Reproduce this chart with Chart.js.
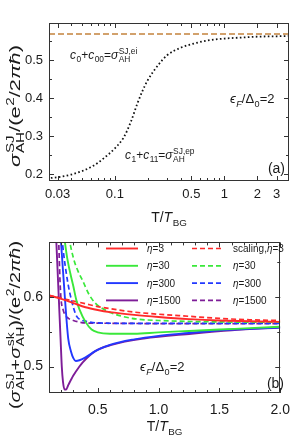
<!DOCTYPE html>
<html>
<head>
<meta charset="utf-8">
<script src="https://cdn.jsdelivr.net/npm/chart.js@4.4.1/dist/chart.umd.min.js"></script>
<style>
  html, body { margin: 0; padding: 0; background: #fff; }
  #wrap { position: relative; width: 299px; height: 443px; }
  canvas { position: absolute; left: 0; display: block; }
  #topChart { top: 0; }
  #botChart { top: 228px; }
</style>
</head>
<body>
<div id="wrap">
  <canvas id="topChart" width="299" height="228"></canvas>
  <canvas id="botChart" width="299" height="215"></canvas>
</div>
<script>
// ---- panel (a) data ----
const topT = [0.026, 0.03, 0.04, 0.05, 0.06, 0.07, 0.08, 0.1, 0.12, 0.14, 0.16, 0.18, 0.2, 0.25, 0.3, 0.4, 0.5, 0.7, 1, 1.5, 2, 3, 3.9];
const topSJep = [0.190, 0.192, 0.199, 0.208, 0.218, 0.230, 0.243, 0.268, 0.296, 0.338, 0.385, 0.421, 0.448, 0.488, 0.513, 0.533, 0.542, 0.552, 0.557, 0.560, 0.562, 0.563, 0.564];
const topEiT = [0.025, 3.9];
const topSJei = [0.569, 0.569];
const topXTicks = [0.03, 0.04, 0.05, 0.06, 0.07, 0.08, 0.09, 0.1, 0.2, 0.3, 0.4, 0.5, 0.6, 0.7, 0.8, 0.9, 1, 2, 3];
const topXMajor = [0.03, 0.1, 0.5, 1, 2, 3];
const topYTicks = [0.2, 0.25, 0.3, 0.35, 0.4, 0.45, 0.5, 0.55];
const topYMajor = [0.2, 0.3, 0.4, 0.5];

// ---- panel (b) data ----
const eta3T = [0.1, 0.2, 0.3, 0.4, 0.5, 0.6, 0.8, 1.0, 1.25, 1.5, 1.75, 2.0];
const eta3 = [0.602, 0.597, 0.591, 0.585, 0.581, 0.578, 0.574, 0.571, 0.568, 0.566, 0.565, 0.564];
const eta30T = [0.2, 0.25, 0.3, 0.325, 0.35, 0.4, 0.45, 0.5, 0.6, 0.8, 1.0, 1.25, 1.5, 1.75, 2.0];
const eta30 = [0.72, 0.655, 0.615, 0.595, 0.582, 0.564, 0.553, 0.549, 0.547, 0.547, 0.549, 0.551, 0.553, 0.555, 0.557];
const eta300T = [0.18, 0.2, 0.232, 0.258, 0.28, 0.3, 0.32, 0.35, 0.4, 0.48, 0.6, 0.8, 1.0, 1.25, 1.5, 1.75, 2.0];
const eta300 = [0.72, 0.675, 0.595, 0.540, 0.522, 0.512, 0.508, 0.509, 0.513, 0.522, 0.531, 0.539, 0.544, 0.548, 0.552, 0.554, 0.556];
const eta1500T = [0.15, 0.16, 0.18, 0.195, 0.205, 0.215, 0.228, 0.24, 0.26, 0.3, 0.35, 0.377, 0.48, 0.614, 0.878, 1.27, 1.6, 2.0];
const eta1500 = [0.72, 0.68, 0.60, 0.54, 0.50, 0.478, 0.467, 0.467, 0.474, 0.487, 0.500, 0.506, 0.522, 0.531, 0.540, 0.547, 0.552, 0.556];
const scal3T = [0.1, 0.2, 0.3, 0.4, 0.5, 0.6, 0.8, 1.0, 1.25, 1.5, 1.75, 2.0];
const scal3 = [0.602, 0.598, 0.594, 0.590, 0.586, 0.583, 0.578, 0.575, 0.572, 0.569, 0.567, 0.566];
const scal30T = [0.24, 0.26, 0.3, 0.34, 0.377, 0.43, 0.48, 0.55, 0.61, 0.7, 0.825, 1.0, 1.5, 2.0];
const scal30 = [0.72, 0.69, 0.656, 0.636, 0.623, 0.603, 0.591, 0.582, 0.577, 0.572, 0.568, 0.566, 0.564, 0.5635];
const scal300T = [0.19, 0.21, 0.25, 0.285, 0.324, 0.36, 0.4, 0.5, 0.7, 1.0, 1.5, 2.0];
const scal300 = [0.72, 0.678, 0.625, 0.595, 0.573, 0.567, 0.565, 0.5625, 0.562, 0.562, 0.562, 0.562];
const scal1500T = [0.17, 0.18, 0.19, 0.198, 0.215, 0.232, 0.26, 0.3, 0.4, 0.6, 1.0, 2.0];
const scal1500 = [0.72, 0.678, 0.625, 0.598, 0.582, 0.574, 0.569, 0.566, 0.5625, 0.562, 0.5615, 0.5615];
const botXTicks = [0.1, 0.2, 0.3, 0.4, 0.5, 0.6, 0.7, 0.8, 0.9, 1.0, 1.1, 1.2, 1.3, 1.4, 1.5, 1.6, 1.7, 1.8, 1.9, 2.0];
const botXMajor = [0.5, 1.0, 1.5, 2.0];
const botYTicks = [0.5, 0.55, 0.6, 0.65];
const botYMajor = [0.5, 0.6];

const FONT = '"Liberation Sans", Arial, sans-serif';
const INK = '#1a1a1a';

const pts = (xs, ys) => xs.map((x, i) => ({ x: x, y: ys[i] }));

// rich text: tokens {t, it, sub, sup, subIt}
const fnt = (size, it) => `${it ? 'italic ' : ''}${size}px ${FONT}`;
const richWidth = (ctx, toks, size) => {
  let w = 0;
  toks.forEach((k) => {
    ctx.font = fnt(size, k.it);
    w += ctx.measureText(k.t).width;
    let sw = 0;
    ctx.font = fnt(size * 0.7, k.subIt);
    if (k.sub) sw = ctx.measureText(k.sub).width;
    ctx.font = fnt(size * 0.7, false);
    if (k.sup) sw = Math.max(sw, ctx.measureText(k.sup).width);
    w += sw ? sw + 0.5 : 0;
  });
  return w;
};
const drawRich = (ctx, toks, x, y, size) => {
  ctx.textBaseline = 'alphabetic';
  ctx.textAlign = 'left';
  toks.forEach((k) => {
    ctx.font = fnt(size, k.it);
    ctx.fillText(k.t, x, y);
    x += ctx.measureText(k.t).width;
    let sw = 0;
    if (k.sub) {
      ctx.font = fnt(size * 0.7, k.subIt);
      ctx.fillText(k.sub, x + 0.5, y + size * 0.28);
      sw = ctx.measureText(k.sub).width;
    }
    if (k.sup) {
      ctx.font = fnt(size * 0.7, false);
      ctx.fillText(k.sup, x + 0.5, y - size * 0.45);
      sw = Math.max(sw, ctx.measureText(k.sup).width);
    }
    x += sw ? sw + 0.5 : 0;
  });
};
const placeRich = (ctx, toks, x, y, size, align) => {
  const w = richWidth(ctx, toks, size);
  const x0 = align === 'right' ? x - w : align === 'center' ? x - w / 2 : x;
  drawRich(ctx, toks, x0, y, size);
};
// rotated title, stretched along its length to span "len" pixels
const drawVertical = (ctx, toks, cx, cy, size, len) => {
  const w = richWidth(ctx, toks, size);
  const k = len ? len / w : 1;
  ctx.save();
  ctx.translate(cx, cy);
  ctx.rotate(-Math.PI / 2);
  ctx.scale(k, 1);
  drawRich(ctx, toks, -w / 2, size * 0.35, size);
  ctx.restore();
};

// frame, inward ticks, texts
const framePlugin = {
  id: 'frame',
  afterDraw(chart, args, opts) {
    const ctx = chart.ctx;
    const a = chart.chartArea;
    ctx.save();
    ctx.strokeStyle = '#333';
    ctx.lineWidth = 1;
    ctx.strokeRect(Math.round(a.left) + 0.5, Math.round(a.top) + 0.5, Math.round(a.right - a.left) - 1, Math.round(a.bottom - a.top) - 1);
    const xs = chart.scales.x, ys = chart.scales.y;
    ctx.beginPath();
    xs.ticks.forEach((t) => {
      const p = Math.round(xs.getPixelForValue(t.value)) + 0.5;
      const len = opts.xMajor.includes(t.value) ? 5 : 3;
      ctx.moveTo(p, a.bottom); ctx.lineTo(p, a.bottom - len);
      ctx.moveTo(p, a.top); ctx.lineTo(p, a.top + len);
    });
    ys.ticks.forEach((t) => {
      const p = Math.round(ys.getPixelForValue(t.value)) + 0.5;
      const len = opts.yMajor.includes(t.value) ? 5 : 3;
      ctx.moveTo(a.left, p); ctx.lineTo(a.left + len, p);
      ctx.moveTo(a.right, p); ctx.lineTo(a.right - len, p);
    });
    ctx.stroke();
    ctx.fillStyle = INK;
    opts.texts.forEach((tx) => placeRich(ctx, tx.toks, tx.x, tx.y, tx.size, tx.align));
    drawVertical(ctx, opts.yTitle, opts.yTitleX, opts.yTitleY, opts.yTitleSize, opts.yTitleLen);
    placeRich(ctx, [{ t: 'T/' }, { t: 'T', it: true, sub: 'BG' }], (a.left + a.right) / 2, opts.xTitleY, 14, 'center');
    ctx.restore();
  },
};

// legend in two columns, drawn from the datasets
const legendPlugin = {
  id: 'etaLegend',
  afterDraw(chart, args, opts) {
    if (!opts.show) return;
    const ctx = chart.ctx;
    ctx.save();
    chart.data.datasets.forEach((ds, i) => {
      const col = i < 4 ? 0 : 1;
      const row = i % 4;
      const y = opts.y0 + row * opts.dy;
      const sx = opts.cols[col];
      ctx.strokeStyle = ds.borderColor;
      ctx.lineWidth = ds.borderWidth;
      ctx.setLineDash(ds.borderDash || []);
      ctx.beginPath();
      ctx.moveTo(sx, y); ctx.lineTo(sx + 32, y);
      ctx.stroke();
      ctx.setLineDash([]);
      ctx.fillStyle = INK;
      const parts = ds.label.split('η');
      const toks = [{ t: parts[0] }, { t: 'η', it: true }, { t: parts[1] }];
      drawRich(ctx, toks, sx + 41, y + 3.5, 10);
    });
    ctx.restore();
  },
};

const axisBase = (ticks, fmt, size, pad) => ({
  grid: { display: false, drawTicks: false },
  border: { display: false },
  afterBuildTicks: (s) => { s.ticks = ticks.map((v) => ({ value: v })); },
  ticks: { autoSkip: false, maxRotation: 0, minRotation: 0, padding: pad, color: INK, font: { family: FONT, size: size }, callback: fmt },
});

// ---- panel (a) ----
const topX = axisBase(topXTicks, (v) => (topXMajor.includes(v) ? String(v) : ''), 13, 6);
topX.type = 'logarithmic'; topX.min = 0.025; topX.max = 3.9;
topX.afterFit = (s) => { s.height = 47; };
const topY = axisBase(topYTicks, (v) => (topYMajor.includes(v) ? v.toFixed(1) : ''), 13, 6);
topY.min = 0.182; topY.max = 0.598;
topY.afterFit = (s) => { s.width = 49; };

new Chart(document.getElementById('topChart'), {
  type: 'line',
  data: {
    datasets: [
      { label: 'ep', data: pts(topT, topSJep), borderColor: '#111', borderWidth: 1.8, borderDash: [1.6, 2.4], pointRadius: 0, cubicInterpolationMode: 'monotone', fill: false },
      { label: 'ei', data: pts(topEiT, topSJei), borderColor: '#c4823c', borderWidth: 1.6, borderDash: [6, 3], pointRadius: 0, fill: false },
    ],
  },
  options: {
    responsive: false, animation: false, parsing: true,
    layout: { padding: { top: 23, right: 10, left: 0, bottom: 0 } },
    plugins: {
      legend: { display: false }, tooltip: { enabled: false },
      etaLegend: { show: false },
      frame: {
        xMajor: topXMajor, yMajor: topYMajor,
        yTitle: [{ t: 'σ', it: true, sub: 'AH', sup: 'SJ' }, { t: '/(e', sup: '2' }, { t: '/2' }, { t: 'πħ', it: true }, { t: ')' }],
        yTitleX: 15, yTitleY: 106, yTitleSize: 15, yTitleLen: 122, xTitleY: 222,
        texts: [
          { toks: [{ t: 'c', it: true, sub: '0' }, { t: '+' }, { t: 'c', it: true, sub: '00' }, { t: '=' }, { t: 'σ', it: true, sub: 'AH', sup: 'SJ,ei' }], x: 70, y: 59, size: 12 },
          { toks: [{ t: 'ϵ', it: true, sub: 'F', subIt: true }, { t: '/Δ', sub: '0' }, { t: '=2' }], x: 230, y: 103, size: 13 },
          { toks: [{ t: 'c', it: true, sub: '1' }, { t: '+' }, { t: 'c', it: true, sub: '11' }, { t: '=' }, { t: 'σ', it: true, sub: 'AH', sup: 'SJ,ep' }], x: 125, y: 159, size: 12 },
          { toks: [{ t: '(a)' }], x: 285, y: 173, size: 14, align: 'right' },
        ],
      },
    },
    scales: { x: topX, y: topY },
  },
  plugins: [framePlugin, legendPlugin],
});

// ---- panel (b) ----
const botX = axisBase(botXTicks, (v) => (botXMajor.includes(v) ? v.toFixed(1) : ''), 14, 9);
botX.type = 'linear'; botX.min = 0.1; botX.max = 2.0;
botX.afterFit = (s) => { s.height = 50; };
const botY = axisBase(botYTicks, (v) => (botYMajor.includes(v) ? v.toFixed(1) : ''), 14, 6);
botY.min = 0.462; botY.max = 0.678;
botY.afterFit = (s) => { s.width = 49; };

const RED = '#ff2a2a', GREEN = '#3ae83a', BLUE = '#2238ff', PURPLE = '#7e1d98';
const line = (label, xs, ys, color, dashed) => ({
  label: label, data: pts(xs, ys), borderColor: color, borderWidth: dashed ? 1.7 : 1.9,
  borderDash: dashed ? [5, 3] : [], pointRadius: 0, cubicInterpolationMode: 'monotone', fill: false,
});

new Chart(document.getElementById('botChart'), {
  type: 'line',
  data: {
    datasets: [
      line('η=3', eta3T, eta3, RED, false),
      line('η=30', eta30T, eta30, GREEN, false),
      line('η=300', eta300T, eta300, BLUE, false),
      line('η=1500', eta1500T, eta1500, PURPLE, false),
      line('scaling,η=3', scal3T, scal3, RED, true),
      line('η=30', scal30T, scal30, GREEN, true),
      line('η=300', scal300T, scal300, BLUE, true),
      line('η=1500', scal1500T, scal1500, PURPLE, true),
    ],
  },
  options: {
    responsive: false, animation: false,
    layout: { padding: { top: 6, right: 10, left: 0, bottom: 0 } },
    plugins: {
      legend: { display: false }, tooltip: { enabled: false },
      etaLegend: { show: true, y0: 20.5, dy: 17.3, cols: [106, 192] },
      frame: {
        xMajor: botXMajor, yMajor: botYMajor,
        yTitle: [{ t: '(' }, { t: 'σ', it: true, sub: 'AH', sup: 'SJ' }, { t: '+' }, { t: 'σ', it: true, sub: 'AH', sup: 'sk' }, { t: ')/(e', sup: '2' }, { t: '/2' }, { t: 'πħ', it: true }, { t: ')' }],
        yTitleX: 15, yTitleY: 97, yTitleSize: 15, yTitleLen: 168, xTitleY: 203,
        texts: [
          { toks: [{ t: 'ϵ', it: true, sub: 'F', subIt: true }, { t: '/Δ', sub: '0' }, { t: '=2' }], x: 140, y: 143, size: 13 },
          { toks: [{ t: '(b)' }], x: 284, y: 160, size: 14, align: 'right' },
        ],
      },
    },
    scales: { x: botX, y: botY },
  },
  plugins: [framePlugin, legendPlugin],
});
</script>
</body>
</html>
